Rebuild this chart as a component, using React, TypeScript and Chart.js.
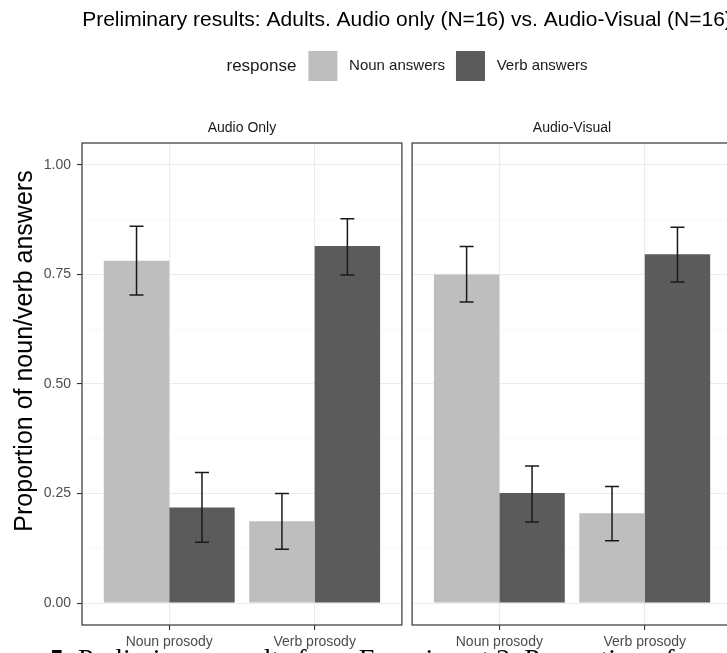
import React, { useEffect, useRef } from 'react';
import { Chart, registerables } from 'chart.js';

Chart.register(...registerables);

const TITLE = 'Preliminary results: Adults. Audio only (N=16) vs. Audio-Visual (N=16)';
const FACETS = ['Audio Only', 'Audio-Visual'];
const PROSODY = ['Noun prosody', 'Verb prosody'];
const SERIES = ['Noun answers', 'Verb answers'];
const LEGEND_TITLE = 'response';
const Y_TITLE = 'Proportion of noun/verb answers';
const Y_TICKS = [0, 0.125, 0.25, 0.375, 0.5, 0.625, 0.75, 0.875, 1];
const CAPTION_NUM = '5.';
const CAPTION_TEXT = 'Preliminary results from Experiment 2. Proportion of';

// order: Audio Only/Noun prosody, Audio Only/Verb prosody, Audio-Visual/Noun prosody, Audio-Visual/Verb prosody
const NOUN_MEAN = [0.781, 0.187, 0.75, 0.205];
const NOUN_LOW = [0.703, 0.123, 0.687, 0.142];
const NOUN_HIGH = [0.86, 0.25, 0.814, 0.266];
const VERB_MEAN = [0.218, 0.815, 0.251, 0.796];
const VERB_LOW = [0.139, 0.749, 0.185, 0.733];
const VERB_HIGH = [0.298, 0.877, 0.313, 0.858];

const COLORS = ['#bebebe', '#5b5b5b'];
const FONT = "'Liberation Sans', Arial, sans-serif";

const SPAN = 2.2; // discrete axis: 2 categories + 0.6 expansion on both sides
const GAP = 0.07;
const X_MIN = 0.4;
const X_MAX = X_MIN + 2 * SPAN + GAP;
const xPos = (facet: number, pros: number) => facet * (SPAN + GAP) + pros + 1;
const CAT_POS = [0, 1, 2, 3].map((i) => xPos(Math.floor(i / 2), i % 2));
const FACET_POS = FACETS.map((_, f) => f * (SPAN + GAP) + 1.5);

const isMajor = (v: number) => Math.abs(v * 4 - Math.round(v * 4)) < 1e-6;

const facetPlugin = {
  id: 'facetPlugin',
  afterLayout(chart: any) {
    const lg = chart.legend;
    if (!lg || !lg.lineWidths) return;
    const ctx = chart.ctx;
    ctx.save();
    ctx.font = `17px ${FONT}`;
    const rw = ctx.measureText(LEGEND_TITLE).width;
    ctx.restore();
    const pad = lg.options.labels.padding;
    const lineW = lg.lineWidths[0];
    const total = rw + 12 + (lineW - pad);
    const center = (chart.chartArea.left + chart.chartArea.right) / 2;
    const desired = center - total / 2 + rw + 12;
    const current = (lg.left + pad + lg.right - lineW) / 2;
    const s = desired - current;
    lg.left += s;
    lg.right += s;
  },
  beforeDatasetsDraw(chart: any) {
    const { ctx, chartArea } = chart;
    const xs = chart.scales.x;
    const a = xs.getPixelForValue(X_MIN + SPAN);
    const b = xs.getPixelForValue(X_MIN + SPAN + GAP);
    ctx.save();
    ctx.fillStyle = '#ffffff';
    ctx.fillRect(a, chartArea.top - 1, b - a, chartArea.bottom - chartArea.top + 2);
    ctx.restore();
  },
  afterDatasetsDraw(chart: any) {
    const { ctx, chartArea } = chart;
    const xs = chart.scales.x;
    const ys = chart.scales.y;
    const lows = [NOUN_LOW, VERB_LOW];
    const highs = [NOUN_HIGH, VERB_HIGH];
    ctx.save();
    ctx.strokeStyle = '#1a1a1a';
    ctx.lineWidth = 1.5;
    [0, 1].forEach((d) => {
      const meta = chart.getDatasetMeta(d);
      meta.data.forEach((bar: any, j: number) => {
        const x = bar.x;
        const y1 = ys.getPixelForValue(lows[d][j]);
        const y2 = ys.getPixelForValue(highs[d][j]);
        const hw = 7;
        ctx.beginPath();
        ctx.moveTo(x, y1);
        ctx.lineTo(x, y2);
        ctx.moveTo(x - hw, y1);
        ctx.lineTo(x + hw, y1);
        ctx.moveTo(x - hw, y2);
        ctx.lineTo(x + hw, y2);
        ctx.stroke();
      });
    });
    // panel borders
    ctx.strokeStyle = '#333333';
    ctx.lineWidth = 1.2;
    FACETS.forEach((_, f) => {
      const l = xs.getPixelForValue(X_MIN + f * (SPAN + GAP));
      const r = xs.getPixelForValue(X_MIN + f * (SPAN + GAP) + SPAN);
      ctx.strokeRect(l, chartArea.top, r - l, chartArea.bottom - chartArea.top);
    });
    ctx.restore();
  },
  afterDraw(chart: any) {
    const { ctx, chartArea } = chart;
    const lg = chart.legend;
    ctx.save();
    if (lg && lg.legendHitBoxes && lg.legendHitBoxes.length) {
      const hb = lg.legendHitBoxes[0];
      ctx.font = `17px ${FONT}`;
      ctx.fillStyle = '#1a1a1a';
      ctx.textAlign = 'right';
      ctx.textBaseline = 'middle';
      ctx.fillText(LEGEND_TITLE, hb.left - 12, hb.top + hb.height / 2);
    }
    ctx.translate(25, (chartArea.top + chartArea.bottom) / 2 - 33);
    ctx.rotate(-Math.PI / 2);
    ctx.font = `25px ${FONT}`;
    ctx.fillStyle = '#000000';
    ctx.textAlign = 'center';
    ctx.textBaseline = 'middle';
    ctx.fillText(Y_TITLE, 0, 0);
    ctx.restore();
  },
};

export default function App() {
  const ref = useRef<HTMLCanvasElement | null>(null);
  useEffect(() => {
    if (!ref.current) return;
    Chart.defaults.font.family = FONT;
    const means = [NOUN_MEAN, VERB_MEAN];
    const chart = new Chart(ref.current, {
      type: 'bar',
      data: {
        datasets: SERIES.map((name, d) => ({
          label: name,
          data: means[d].map((y, i) => ({ x: xPos(Math.floor(i / 2), i % 2), y })),
          backgroundColor: COLORS[d],
          borderWidth: 0,
          categoryPercentage: 0.9,
          barPercentage: 1,
        })),
      },
      options: {
        animation: false,
        responsive: false,
        layout: { padding: { left: 0, right: 8, top: 0, bottom: 0 } },
        plugins: {
          title: {
            display: true,
            text: TITLE,
            fullSize: false,
            color: '#000000',
            font: { size: 21, weight: 'normal' },
            padding: { top: 8, bottom: 6.8 },
          },
          legend: {
            display: true,
            position: 'top',
            fullSize: false,
            labels: {
              boxWidth: 29,
              boxHeight: 30,
              padding: 11,
              color: '#1a1a1a',
              font: { size: 15 },
              generateLabels: (chart: any) =>
                Chart.defaults.plugins.legend.labels
                  .generateLabels(chart)
                  .map((item: any) => ({ ...item, text: ' ' + item.text })),
            },
          },
          tooltip: { enabled: false },
        },
        scales: {
          x: {
            type: 'linear',
            position: 'bottom',
            min: X_MIN,
            max: X_MAX,
            offset: false,
            afterBuildTicks: (s: any) => {
              s.ticks = CAT_POS.map((v) => ({ value: v }));
            },
            afterFit: (s: any) => {
              s.height = 28;
            },
            ticks: {
              callback: (_v: any, i: number) => PROSODY[i % 2],
              color: '#4d4d4d',
              font: { size: 14 },
              padding: 4,
              maxRotation: 0,
              autoSkip: false,
            },
            grid: {
              offset: false,
              color: '#ebebeb',
              lineWidth: 1.1,
              tickLength: 5,
              tickColor: '#333333',
              tickWidth: 1.1,
            },
            border: { display: false },
          },
          x2: {
            type: 'linear',
            position: 'top',
            min: X_MIN,
            max: X_MAX,
            offset: false,
            afterBuildTicks: (s: any) => {
              s.ticks = FACET_POS.map((v) => ({ value: v }));
            },
            afterFit: (s: any) => {
              s.height = 52;
            },
            ticks: {
              callback: (_v: any, i: number) => FACETS[i],
              color: '#1a1a1a',
              font: { size: 14 },
              padding: 6,
              maxRotation: 0,
              autoSkip: false,
            },
            grid: { display: false, drawTicks: false, offset: false },
            border: { display: false },
          },
          y: {
            type: 'linear',
            min: -0.05,
            max: 1.05,
            afterBuildTicks: (s: any) => {
              s.ticks = Y_TICKS.map((v) => ({ value: v }));
            },
            afterFit: (s: any) => {
              s.width = 82;
            },
            ticks: {
              callback: (v: any) => (isMajor(Number(v)) ? Number(v).toFixed(2) : ''),
              color: '#4d4d4d',
              font: { size: 14 },
              padding: 6,
              autoSkip: false,
            },
            grid: {
              color: (c: any) => (c.tick && isMajor(c.tick.value) ? '#ebebeb' : '#f3f3f3'),
              lineWidth: (c: any) => (c.tick && isMajor(c.tick.value) ? 1.1 : 0.6),
              tickColor: (c: any) => (c.tick && isMajor(c.tick.value) ? '#333333' : 'rgba(0,0,0,0)'),
              tickLength: 5,
              tickWidth: 1.1,
            },
            border: { display: false },
          },
        },
      },
      plugins: [facetPlugin],
    } as any);
    return () => chart.destroy();
  }, []);

  return (
    <div
      style={{
        position: 'absolute',
        left: 0,
        top: 0,
        width: 727,
        height: 653,
        overflow: 'hidden',
        background: '#ffffff',
      }}
    >
      <canvas ref={ref} width={740} height={653} style={{ display: 'block' }} />
      <div
        style={{
          position: 'absolute',
          left: 50,
          top: 645,
          whiteSpace: 'nowrap',
          fontFamily: "'Liberation Serif', 'Times New Roman', serif",
          fontSize: 28,
          lineHeight: '28px',
          color: '#000000',
        }}
      >
        <b>{CAPTION_NUM}</b> {CAPTION_TEXT}
      </div>
    </div>
  );
}
